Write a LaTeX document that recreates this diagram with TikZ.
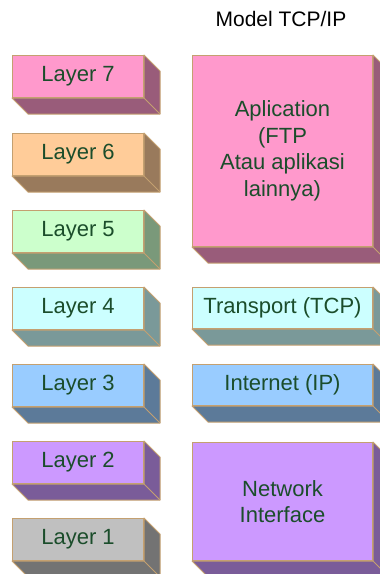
\documentclass[tikz,border=0pt]{standalone}
\usepackage{fontspec}
\setmainfont{Liberation Sans}
\usetikzlibrary{positioning}

\definecolor{edgecol}{RGB}{196,160,112}
\definecolor{txtcol}{RGB}{27,77,43}
\definecolor{pinkF}{RGB}{255,153,204}  \definecolor{pinkS}{RGB}{153,92,122}
\definecolor{orangeF}{RGB}{255,204,153}\definecolor{orangeS}{RGB}{153,122,92}
\definecolor{greenF}{RGB}{204,255,204} \definecolor{greenS}{RGB}{122,153,122}
\definecolor{cyanF}{RGB}{204,255,255}  \definecolor{cyanS}{RGB}{122,153,153}
\definecolor{blueF}{RGB}{153,204,255}  \definecolor{blueS}{RGB}{92,122,153}
\definecolor{violetF}{RGB}{204,153,255}\definecolor{violetS}{RGB}{122,92,153}
\definecolor{grayF}{RGB}{192,192,192}  \definecolor{grayS}{RGB}{115,115,115}

\tikzset{
  face/.style={draw=edgecol, line width=1pt, text=txtcol, align=center,
    anchor=north west, inner sep=0pt, font=\fontsize{22}{26.5}\selectfont},
  layerface/.style={face, minimum width=131, minimum height=42},
  tcpface/.style={face, minimum width=180},
}

% depth of a box: node name, side colour
\newcommand{\boxdepth}[2]{%
  \path (#1.north east) ++(16,16) coordinate (#1-a)
        (#1.south east) ++(16,16) coordinate (#1-b)
        (#1.south west) ++(16,16) coordinate (#1-c);
  \filldraw[draw=edgecol, fill=#2, line width=1pt, line join=round]
    (#1.north east) -- (#1-a) -- (#1-b) -- (#1-c) -- (#1.south west) -- (#1.south east) -- cycle;
  \draw[edgecol, line width=1pt] (#1.south east) -- (#1-b);
}

\begin{document}
\begin{tikzpicture}[x=1pt,y=1pt,yscale=-1,xscale=1]
\useasboundingbox (0,0) rectangle (380,574);
\clip (0,0) rectangle (380,574);

% Text Node
\node (title) [anchor=base, font=\fontsize{21}{25}\selectfont] at (281,26) {Model TCP/IP};

%Shape: OSI layers
\node (l7) [layerface, fill=pinkF]   at (12,55)  {Layer 7};
\node (l6) [layerface, fill=orangeF] at (12,133) {Layer 6};
\node (l5) [layerface, fill=greenF]  at (12,210) {Layer 5};
\node (l4) [layerface, fill=cyanF]   at (12,287) {Layer 4};
\node (l3) [layerface, fill=blueF]   at (12,364) {Layer 3};
\node (l2) [layerface, fill=violetF] at (12,441) {Layer 2};
\node (l1) [layerface, fill=grayF]   at (12,518) {Layer 1};

%Shape: TCP/IP layers
\node (app) [tcpface, fill=pinkF, minimum height=191] at (192,55) {Aplication\\(FTP\\Atau aplikasi\\lainnya)};
\node (trans) [tcpface, fill=cyanF, minimum height=41] at (192,287) {Transport (TCP)};
\node (inet) [tcpface, fill=blueF, minimum height=41] at (192,364) {Internet (IP)};
\node (net) [tcpface, fill=violetF, minimum height=118] at (192,442) {Network\\Interface};

%Shape: depth faces
\foreach \n/\c in {l7/pinkS, l6/orangeS, l5/greenS, l4/cyanS, l3/blueS, l2/violetS, l1/grayS,
                   app/pinkS, trans/cyanS, inet/blueS, net/violetS}
  {\boxdepth{\n}{\c}}

\end{tikzpicture}
\end{document}
